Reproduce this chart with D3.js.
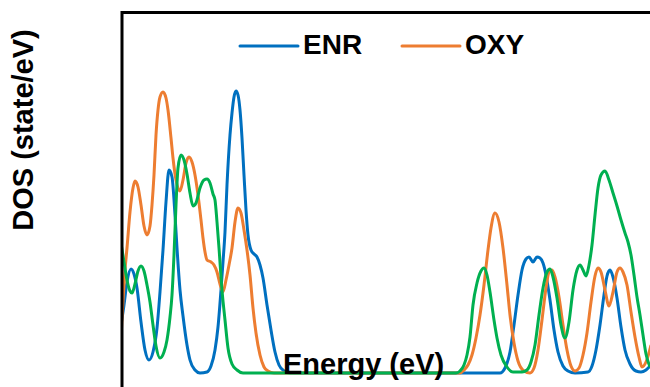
<!DOCTYPE html>
<html lang="en">
<head>
    <meta charset="UTF-8">
    <title>DOS plot</title>
    <script src="https://d3js.org/d3.v7.min.js"></script>
    <style>
        body, html {
            margin: 0;
            background: #fff;
        }
        svg text {
            font-family: "Liberation Sans", Arial, sans-serif;
            font-weight: bold;
            fill: #000;
        }
        .dos-line {
            fill: none;
            stroke-width: 3px;
            stroke-linejoin: round;
        }
    </style>
</head>
<body>
<div id="chart"></div>

<script>
// [energy (eV), DOS (state/eV)]
var enrDos = [
    [-12.5, 4.8], [-12.35, 6.8], [-12.2, 9.1], [-12.0, 10.4], [-11.85, 9.9], [-11.7, 8.5],
    [-11.5, 5.1], [-11.3, 2.3], [-11.1, 1.3], [-10.9, 2.1], [-10.7, 4.5], [-10.55, 8.1],
    [-10.4, 12.3], [-10.25, 17.1], [-10.1, 20.3], [-9.95, 19.6], [-9.8, 15.8], [-9.7, 12.5],
    [-9.55, 8.3], [-9.4, 5.7], [-9.2, 2.8], [-9.05, 1.3], [-8.8, 0.3], [-8.55, 0],
    [-8.2, 0.1], [-8.0, 0.7], [-7.8, 2.3], [-7.65, 4.6], [-7.5, 8.3], [-7.4, 11.1],
    [-7.3, 14.1], [-7.2, 18.8], [-7.05, 23.8], [-6.95, 26.0], [-6.85, 27.6], [-6.75, 28.2],
    [-6.65, 27.8], [-6.55, 26.3], [-6.45, 23.5], [-6.35, 19.8], [-6.25, 16.3], [-6.15, 13.8],
    [-6.0, 12.3], [-5.85, 11.9], [-5.7, 11.6], [-5.55, 10.8], [-5.4, 9.5], [-5.2, 6.8],
    [-5.0, 4.3], [-4.8, 2.1], [-4.6, 0.8], [-4.35, 0.2], [-4.05, 0], [6.45, 0],
    [6.7, 0.5], [6.95, 2.1], [7.15, 4.8], [7.35, 7.8], [7.55, 10.3], [7.75, 11.4],
    [7.9, 11.6], [8.1, 11.1], [8.3, 11.6], [8.45, 11.5], [8.6, 11.0], [8.75, 9.8],
    [8.95, 7.3], [9.15, 4.3], [9.35, 2.1], [9.6, 0.7], [9.85, 0.2], [10.2, 0],
    [10.85, 0.1], [11.05, 0.7], [11.25, 2.3], [11.45, 4.8], [11.65, 7.8], [11.8, 9.7],
    [11.95, 10.3], [12.1, 9.6], [12.3, 7.5], [12.5, 4.6], [12.7, 2.3], [12.95, 0.9],
    [13.25, 0.2], [13.5, 0.1], [13.75, 0.3], [14.0, 0.8]
];

var oxyDos = [
    [-12.5, 3.5], [-12.4, 7.3], [-12.3, 10.3], [-12.2, 12.5], [-12.05, 16.1], [-11.9, 18.5],
    [-11.8, 19.2], [-11.65, 18.6], [-11.5, 16.8], [-11.35, 14.7], [-11.2, 13.8], [-11.05, 14.7],
    [-10.95, 16.8], [-10.85, 19.8], [-10.75, 23.8], [-10.65, 26.3], [-10.55, 27.6], [-10.4, 28.1],
    [-10.25, 27.5], [-10.15, 26.3], [-10.0, 23.5], [-9.9, 21.5], [-9.75, 19.3], [-9.55, 18.2],
    [-9.4, 19.3], [-9.25, 21.0], [-9.1, 21.6], [-8.95, 21.1], [-8.8, 19.8], [-8.65, 17.8],
    [-8.5, 15.3], [-8.4, 13.5], [-8.3, 12.1], [-8.2, 11.3], [-8.0, 11.1], [-7.85, 10.8],
    [-7.7, 10.1], [-7.55, 8.9], [-7.4, 8.1], [-7.25, 9.3], [-7.1, 10.8], [-6.95, 12.5],
    [-6.8, 15.1], [-6.65, 16.5], [-6.5, 16.0], [-6.35, 14.3], [-6.2, 12.3], [-6.05, 9.8],
    [-5.9, 6.5], [-5.75, 4.0], [-5.55, 1.8], [-5.35, 0.6], [-5.15, 0.2], [-4.85, 0],
    [4.45, 0], [4.65, 0.3], [4.85, 0.8], [5.05, 1.8], [5.25, 3.5], [5.45, 5.8],
    [5.65, 8.8], [5.85, 12.3], [6.0, 14.5], [6.2, 16.0], [6.4, 15.1], [6.6, 12.5],
    [6.8, 8.8], [6.95, 5.8], [7.15, 3.0], [7.35, 1.2], [7.65, 0.2], [7.95, 0],
    [8.15, 0.5], [8.35, 2.3], [8.55, 5.3], [8.75, 8.5], [8.9, 10.1], [9.05, 10.3],
    [9.2, 9.6], [9.4, 7.6], [9.6, 4.8], [9.8, 2.3], [10.0, 0.7], [10.2, 0.2],
    [10.4, 0.5], [10.6, 1.8], [10.8, 4.0], [11.0, 7.1], [11.2, 9.7], [11.35, 10.5],
    [11.5, 10.1], [11.7, 8.3], [11.9, 6.7], [12.1, 8.1], [12.3, 10.1], [12.45, 10.5],
    [12.6, 10.1], [12.8, 8.8], [13.0, 6.1], [13.2, 3.6], [13.4, 1.6], [13.55, 0.6],
    [13.75, 1.1], [14.0, 2.8]
];

// third curve (green), not in the legend
var thirdDos = [
    [-12.5, 13.0], [-12.35, 11.1], [-12.2, 9.3], [-12.05, 8.2], [-11.95, 8.0], [-11.8, 8.9],
    [-11.65, 10.2], [-11.5, 10.7], [-11.35, 10.2], [-11.2, 8.8], [-11.05, 7.1], [-10.9, 4.8],
    [-10.75, 2.7], [-10.55, 1.5], [-10.35, 2.1], [-10.2, 3.3], [-10.05, 5.6], [-9.95, 7.8],
    [-9.85, 11.8], [-9.75, 16.8], [-9.65, 20.5], [-9.5, 21.8], [-9.35, 21.3], [-9.2, 19.9],
    [-9.05, 18.0], [-8.9, 16.7], [-8.75, 17.0], [-8.55, 18.5], [-8.35, 19.3], [-8.2, 19.4],
    [-8.05, 19.0], [-7.9, 17.9], [-7.8, 17.3], [-7.7, 15.1], [-7.6, 12.5], [-7.45, 8.3],
    [-7.3, 5.3], [-7.15, 2.5], [-6.95, 0.9], [-6.7, 0.3], [-6.4, 0], [4.25, 0],
    [4.45, 0.2], [4.65, 0.8], [4.8, 1.8], [4.95, 3.6], [5.1, 6.8], [5.3, 9.0],
    [5.5, 10.2], [5.65, 10.5], [5.8, 9.8], [5.95, 8.1], [6.15, 5.3], [6.3, 3.5],
    [6.5, 1.8], [6.8, 0.6], [7.1, 0.1], [7.55, 0.1], [7.8, 0.3], [8.0, 1.1],
    [8.2, 2.8], [8.4, 5.8], [8.6, 8.5], [8.8, 10.1], [8.95, 10.4], [9.1, 9.6],
    [9.3, 7.5], [9.5, 4.8], [9.7, 3.5], [9.9, 5.1], [10.1, 8.3], [10.3, 10.3],
    [10.45, 10.8], [10.6, 10.3], [10.75, 9.7], [10.9, 10.8], [11.05, 12.8], [11.2, 15.8],
    [11.35, 18.5], [11.5, 19.8], [11.7, 20.2], [11.9, 19.3], [12.1, 18.0], [12.3, 16.7],
    [12.5, 15.3], [12.7, 14.0], [12.85, 13.1], [13.0, 11.8], [13.15, 9.8], [13.3, 7.6],
    [13.45, 5.8], [13.6, 3.8], [13.75, 1.9], [13.95, 0.6]
];

var seriesNames = ["ENR", "OXY"];
var seriesColors = ["#0070C0", "#ED7D31", "#00B050"];

var width = 650, height = 387;

var svg = d3.select("#chart").append("svg")
    .attr("width", width)
    .attr("height", height);

// plot box runs past the right and bottom edge of the picture
var x = d3.scaleLinear().domain([-12.5, 14]).range([121, 651]);
var y = d3.scaleLinear().domain([0, 36]).range([373, 13]);

var line = d3.line()
    .x(function(d) { return x(d[0]); })
    .y(function(d) { return y(d[1]); })
    .curve(d3.curveMonotoneX);

svg.append("clipPath").attr("id", "plotClip")
    .append("rect")
    .attr("x", 122).attr("y", 12)
    .attr("width", 600).attr("height", 400);

var plot = svg.append("g").attr("clip-path", "url(#plotClip)");

[enrDos, oxyDos, thirdDos].forEach(function(series, i) {
    plot.append("path")
        .datum(series)
        .attr("class", "dos-line")
        .attr("stroke", seriesColors[i])
        .attr("d", line);
});

// frame (only left and top edges show)
svg.append("rect")
    .attr("x", 122)
    .attr("y", 12.5)
    .attr("width", 620)
    .attr("height", 420)
    .attr("fill", "none")
    .attr("stroke", "#000")
    .attr("stroke-width", 3);

// legend
var legendX = [240, 402];
seriesNames.forEach(function(name, i) {
    svg.append("line")
        .attr("x1", legendX[i]).attr("x2", legendX[i] + 58)
        .attr("y1", 46).attr("y2", 46)
        .attr("stroke", seriesColors[i])
        .attr("stroke-width", 3)
        .attr("stroke-linecap", "round");
    svg.append("text")
        .attr("x", legendX[i] + 63)
        .attr("y", 53.5)
        .style("font-size", "28px")
        .text(name);
});

// axis titles
svg.append("text")
    .attr("x", 283)
    .attr("y", 374)
    .style("font-size", "29px")
    .text("Energy (eV)");

svg.append("text")
    .attr("transform", "translate(33,130) rotate(-90)")
    .attr("text-anchor", "middle")
    .style("font-size", "29px")
    .text("DOS (state/eV)");
</script>
</body>
</html>
